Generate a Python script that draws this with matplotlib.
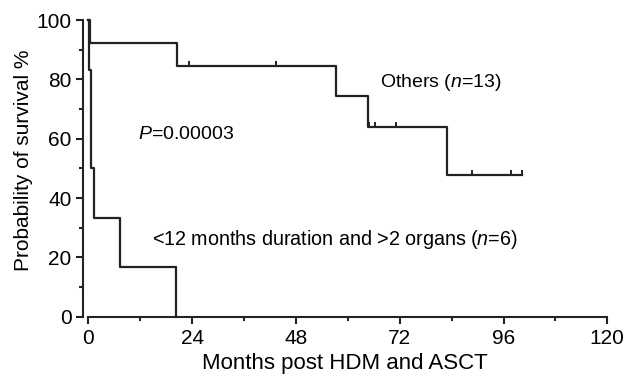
import numpy as np
import matplotlib
matplotlib.use('Agg')
import matplotlib.pyplot as plt
from matplotlib.ticker import MultipleLocator

plt.rcParams['font.family'] = ['Liberation Sans', 'DejaVu Sans']
plt.rcParams['mathtext.fontset'] = 'custom'
plt.rcParams['mathtext.rm'] = 'Liberation Sans'
plt.rcParams['mathtext.it'] = 'Liberation Sans:italic'

# Kaplan-Meier steps (months, % surviving)
others_t = [0, 0.3, 20.4, 57.3, 64.7, 83.0, 100.3]
others_s = [100, 92.3, 84.6, 74.4, 64.0, 47.7, 47.7]
others_cens = [23.3, 43.5, 65.0, 66.3, 71.2, 88.8, 97.8, 100.3]

short_t = [0, 0.05, 0.6, 0.7, 1.3, 7.3, 20.2]
short_s = [100, 83.3, 66.7, 50.0, 33.3, 16.7, 0]

x_ticks = [0, 24, 48, 72, 96, 120]
y_ticks = [0, 20, 40, 60, 80, 100]


def level_at(times, surv, t):
    idx = np.searchsorted(times, t, side='right') - 1
    return np.array(surv)[idx]


fig = plt.figure(figsize=(6.27, 3.82), dpi=100)
ax = fig.add_axes([0.1329, 0.1709, 0.8357, 0.7767])

lw = 1.6
ax.step(others_t, others_s, where='post', color='#222222', lw=lw, clip_on=False)
ax.step(short_t, short_s, where='post', color='#222222', lw=lw, clip_on=False)
ax.plot(others_cens, level_at(others_t, others_s, others_cens), ls='none',
        marker=2, ms=3.8, mew=1.4, color='#222222', clip_on=False)

ax.set_xlim(-1.15, 120)
ax.set_ylim(0, 100)
ax.spines['top'].set_visible(False)
ax.spines['right'].set_visible(False)
ax.spines['bottom'].set_bounds(0, 120)
for s in ('left', 'bottom'):
    ax.spines[s].set_linewidth(1.5)
    ax.spines[s].set_color('#222222')

ax.set_xticks(x_ticks)
ax.set_yticks(y_ticks)
ax.xaxis.set_minor_locator(MultipleLocator(12))
ax.yaxis.set_minor_locator(MultipleLocator(10))
ax.tick_params(which='major', length=5, width=1.5, labelsize=15, pad=3.5,
               color='#222222')
ax.tick_params(which='minor', length=3, width=1.5, color='#222222')

ax.set_xlabel('Months post HDM and ASCT', fontsize=16, labelpad=4)
ax.set_ylabel('Probability of survival %', fontsize=15)
ax.yaxis.set_label_coords(-0.096, 0.528)

ax.text(11.5, 61.4, '$P$=0.00003', fontsize=14, va='center')
ax.text(67.4, 78.8, 'Others ($n$=13)', fontsize=14, va='center')
ax.text(14.8, 25.9, '<12 months duration and >2 organs ($n$=6)',
        fontsize=14.2, va='center')

fig.savefig('out.png', dpi=100)
